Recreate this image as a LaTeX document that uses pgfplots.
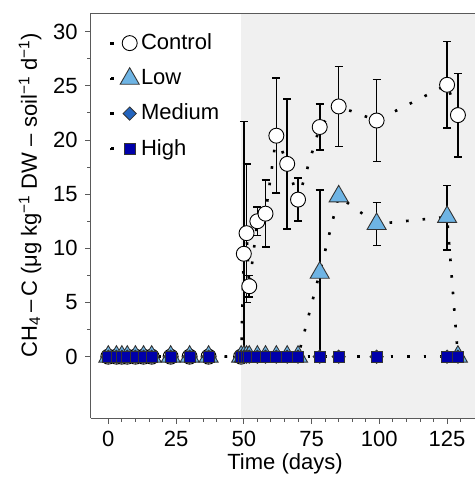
\documentclass[border=0pt]{standalone}
\usepackage{fontspec}
\setmainfont{Liberation Sans}
\usepackage{pgfplots}
\usepackage{pgfplotstable}
\pgfplotsset{compat=1.18}

\definecolor{bgshade}{RGB}{240,240,240}
\definecolor{lowc}{RGB}{110,180,228}
\definecolor{medc}{RGB}{35,100,190}
\definecolor{highc}{RGB}{0,0,170}
\definecolor{axc}{RGB}{90,90,90}

\pgfplotstableread{
x y ep em
0 0 0 0
3 0 0 0
5 0 0 0
7 0 0 0
10 0 0 0
13 0 0 0
16 0 0 0
23 0 0 0
30 0 0 0
37 0 0 0
49 0 0 0
50 9.5 12.2 9.5
51 11.4 6.4 6.4
52 6.5 1.0 1.0
55 12.5 1.3 1.3
58 13.2 3.1 3.1
62 20.4 5.3 5.3
66 17.8 6.0 6.0
70 14.5 2.0 2.0
78 21.2 2.1 2.1
85 23.1 3.7 3.7
99 21.8 3.8 3.8
125 25.1 4.0 4.0
129 22.3 3.85 3.85
}\control

\pgfplotstableread{
x y ep em
0 0 0 0
3 0 0 0
5 0 0 0
7 0 0 0
10 0 0 0
13 0 0 0
16 0 0 0
23 0 0 0
30 0 0 0
37 0 0 0
49 0 0 0
50 0 0 0
51 0 0 0
52 0 0 0
55 0 0 0
58 0 0 0
62 0 0 0
66 0 0 0
70 0 0 0
78 7.75 7.65 7.75
85 14.8 0 0
99 12.25 2.0 2.0
125 12.9 2.9 3.05
129 0 0 0
}\low

\pgfplotstableread{
x y
0 0
3 0
5 0
7 0
10 0
13 0
16 0
23 0
30 0
37 0
49 0
50 0
51 0
52 0
55 0
58 0
62 0
66 0
70 0
78 0
85 0
99 0
125 0
129 0
}\medium

\pgfplotstableread{
x y
0 0
3 0
5 0
7 0
10 0
13 0
16 0
23 0
30 0
37 0
49 0
50 0
51 0
52 0
55 0
58 0
62 0
66 0
70 0
78 0
85 0
99 0
125 0
129 0
}\high

\begin{document}
\fontsize{22}{26}\selectfont
\begin{tikzpicture}
\begin{axis}[
  at={(0,0)}, anchor=south west,
  scale only axis, width=384.3pt, height=405pt,
  xmin=-6.5, xmax=135.3, ymin=-5.69, ymax=31.7,
  axis x line*=box, axis y line*=left,
  axis on top,
  xtick={0,25,...,125},
  minor xtick={5,10,15,20,30,35,40,45,55,60,65,70,80,85,90,95,105,110,115,120,130},
  ytick={0,5,...,30},
  minor ytick={2.5,7.5,12.5,17.5,22.5,27.5},
  xtick pos=bottom, ytick pos=left,
  tick align=outside,
  major tick length=5.5pt, minor tick length=3.5pt,
  axis line style={axc, line width=0.9pt},
  tick style={axc, line width=0.9pt},
  /pgf/number format/assume math mode=true,
  ticklabel style={font=\fontsize{22}{26}\selectfont},
  xlabel={Time (days)},
  xlabel style={at={(rel axis cs:0.5056,0)}, anchor=center, yshift=-45.7pt},
  ylabel={CH\textsubscript{4}\,–\,C (μg kg\textsuperscript{−1} DW – soil\textsuperscript{−1} d\textsuperscript{−1})},
  ylabel style={at={(rel axis cs:0,0.551)}, anchor=center, yshift=60.7pt},
  legend style={at={(rel axis cs:0,1)}, anchor=north west, xshift=19pt, yshift=-19pt,
    draw=none, fill=none, row sep=14pt, inner sep=0pt,
    font=\fontsize{22}{26}\selectfont,
    nodes={inner sep=1pt}},
  legend cell align=left,
  legend image code/.code={
    \fill[black] (-1.5pt,-1.5pt) rectangle (1.5pt,1.5pt);
    \draw[#1] plot coordinates {(17pt,0pt)};
    \path (26pt,0pt);
  },
  error bars/error bar style={line width=1.6pt, solid, black},
  error bars/error mark options={rotate=90, mark size=4pt, line width=1.6pt, solid, black},
]
\fill[bgshade] (axis cs:49,-5.69) rectangle (axis cs:135.3,31.7);

\addplot[black, line width=2.6pt, dash pattern=on 2.6pt off 14pt,
  mark=*, mark size=7.5pt, mark options={solid, fill=white, draw=black, line width=0.9pt},
  error bars/.cd, y dir=both, y explicit]
  table[x=x, y=y, y error plus=ep, y error minus=em] {\control};
\addlegendentry{Control}

\addplot[black, line width=2.6pt, dash pattern=on 2.6pt off 14pt,
  mark=triangle*, mark size=11pt, mark options={solid, fill=lowc, draw=black!80, line width=0.9pt},
  error bars/.cd, y dir=both, y explicit]
  table[x=x, y=y, y error plus=ep, y error minus=em] {\low};
\addlegendentry{Low}

\addplot[black, line width=2.6pt, dash pattern=on 2.6pt off 14pt,
  mark=square*, mark size=4.7pt, mark options={solid, rotate=45, fill=medc, draw=black!80, line width=0.8pt}]
  table[x=x, y=y] {\medium};
\addlegendentry{Medium}

\addplot[black, line width=2.6pt, dash pattern=on 2.6pt off 14pt,
  mark=square*, mark size=5.5pt, mark options={solid, fill=highc, draw=black!80, line width=0.8pt}]
  table[x=x, y=y] {\high};
\addlegendentry{High}
\end{axis}
\pgfresetboundingbox
\path (-90.7pt,-62.7pt) rectangle (384.3pt,418.3pt);
\end{tikzpicture}
\end{document}
